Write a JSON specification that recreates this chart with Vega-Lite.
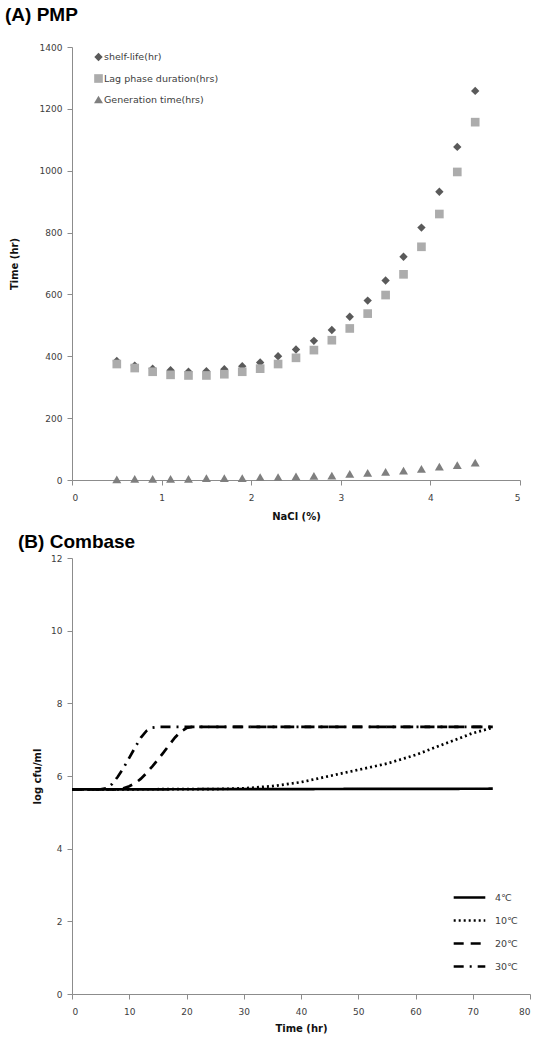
{
  "$schema": "https://vega.github.io/schema/vega-lite/v6.json",
  "background": "white",
  "padding": {"left": 5, "top": 6, "right": 5, "bottom": 2},
  "spacing": 12,
  "config": {
    "font": "DejaVu Sans",
    "view": {"stroke": null},
    "axis": {
      "grid": false,
      "domainColor": "#8c8c8c",
      "tickColor": "#8c8c8c",
      "tickSize": 5,
      "labelFontSize": 9,
      "labelColor": "#404040",
      "titleFontSize": 10,
      "titleFontWeight": "bold",
      "titleColor": "#111111",
      "labelPadding": 4
    },
    "legend": {"labelFontSize": 9.5, "labelColor": "#404040"}
  },
  "datasets": {
    "pmp": [
      {"nacl": 0.5, "series": "shelf-life(hr)", "time": 385},
      {"nacl": 0.7, "series": "shelf-life(hr)", "time": 370},
      {"nacl": 0.9, "series": "shelf-life(hr)", "time": 360},
      {"nacl": 1.1, "series": "shelf-life(hr)", "time": 355},
      {"nacl": 1.3, "series": "shelf-life(hr)", "time": 350},
      {"nacl": 1.5, "series": "shelf-life(hr)", "time": 352},
      {"nacl": 1.7, "series": "shelf-life(hr)", "time": 358},
      {"nacl": 1.9, "series": "shelf-life(hr)", "time": 368},
      {"nacl": 2.1, "series": "shelf-life(hr)", "time": 380},
      {"nacl": 2.3, "series": "shelf-life(hr)", "time": 400},
      {"nacl": 2.5, "series": "shelf-life(hr)", "time": 422},
      {"nacl": 2.7, "series": "shelf-life(hr)", "time": 450},
      {"nacl": 2.9, "series": "shelf-life(hr)", "time": 485},
      {"nacl": 3.1, "series": "shelf-life(hr)", "time": 528},
      {"nacl": 3.3, "series": "shelf-life(hr)", "time": 580},
      {"nacl": 3.5, "series": "shelf-life(hr)", "time": 645},
      {"nacl": 3.7, "series": "shelf-life(hr)", "time": 722},
      {"nacl": 3.9, "series": "shelf-life(hr)", "time": 816},
      {"nacl": 4.1, "series": "shelf-life(hr)", "time": 932},
      {"nacl": 4.3, "series": "shelf-life(hr)", "time": 1077},
      {"nacl": 4.5, "series": "shelf-life(hr)", "time": 1258},
      {"nacl": 0.5, "series": "Lag phase duration(hrs)", "time": 375},
      {"nacl": 0.7, "series": "Lag phase duration(hrs)", "time": 362},
      {"nacl": 0.9, "series": "Lag phase duration(hrs)", "time": 350},
      {"nacl": 1.1, "series": "Lag phase duration(hrs)", "time": 340},
      {"nacl": 1.3, "series": "Lag phase duration(hrs)", "time": 338},
      {"nacl": 1.5, "series": "Lag phase duration(hrs)", "time": 338},
      {"nacl": 1.7, "series": "Lag phase duration(hrs)", "time": 342},
      {"nacl": 1.9, "series": "Lag phase duration(hrs)", "time": 350},
      {"nacl": 2.1, "series": "Lag phase duration(hrs)", "time": 360},
      {"nacl": 2.3, "series": "Lag phase duration(hrs)", "time": 375},
      {"nacl": 2.5, "series": "Lag phase duration(hrs)", "time": 395},
      {"nacl": 2.7, "series": "Lag phase duration(hrs)", "time": 420},
      {"nacl": 2.9, "series": "Lag phase duration(hrs)", "time": 452},
      {"nacl": 3.1, "series": "Lag phase duration(hrs)", "time": 490},
      {"nacl": 3.3, "series": "Lag phase duration(hrs)", "time": 538},
      {"nacl": 3.5, "series": "Lag phase duration(hrs)", "time": 598},
      {"nacl": 3.7, "series": "Lag phase duration(hrs)", "time": 665},
      {"nacl": 3.9, "series": "Lag phase duration(hrs)", "time": 754},
      {"nacl": 4.1, "series": "Lag phase duration(hrs)", "time": 860},
      {"nacl": 4.3, "series": "Lag phase duration(hrs)", "time": 996},
      {"nacl": 4.5, "series": "Lag phase duration(hrs)", "time": 1157},
      {"nacl": 0.5, "series": "Generation time(hrs)", "time": 2},
      {"nacl": 0.7, "series": "Generation time(hrs)", "time": 4},
      {"nacl": 0.9, "series": "Generation time(hrs)", "time": 4},
      {"nacl": 1.1, "series": "Generation time(hrs)", "time": 4},
      {"nacl": 1.3, "series": "Generation time(hrs)", "time": 4},
      {"nacl": 1.5, "series": "Generation time(hrs)", "time": 6},
      {"nacl": 1.7, "series": "Generation time(hrs)", "time": 6},
      {"nacl": 1.9, "series": "Generation time(hrs)", "time": 6},
      {"nacl": 2.1, "series": "Generation time(hrs)", "time": 9},
      {"nacl": 2.3, "series": "Generation time(hrs)", "time": 9},
      {"nacl": 2.5, "series": "Generation time(hrs)", "time": 12},
      {"nacl": 2.7, "series": "Generation time(hrs)", "time": 13},
      {"nacl": 2.9, "series": "Generation time(hrs)", "time": 14},
      {"nacl": 3.1, "series": "Generation time(hrs)", "time": 20},
      {"nacl": 3.3, "series": "Generation time(hrs)", "time": 23},
      {"nacl": 3.5, "series": "Generation time(hrs)", "time": 26},
      {"nacl": 3.7, "series": "Generation time(hrs)", "time": 30},
      {"nacl": 3.9, "series": "Generation time(hrs)", "time": 36},
      {"nacl": 4.1, "series": "Generation time(hrs)", "time": 43},
      {"nacl": 4.3, "series": "Generation time(hrs)", "time": 48},
      {"nacl": 4.5, "series": "Generation time(hrs)", "time": 56}
    ],
    "combase": [
      {"t": 0, "temp": "4℃", "log": 5.63},
      {"t": 73.5, "temp": "4℃", "log": 5.65},
      {"t": 0, "temp": "10℃", "log": 5.63},
      {"t": 25, "temp": "10℃", "log": 5.64},
      {"t": 30, "temp": "10℃", "log": 5.66},
      {"t": 35, "temp": "10℃", "log": 5.72},
      {"t": 40, "temp": "10℃", "log": 5.83},
      {"t": 45, "temp": "10℃", "log": 6.0},
      {"t": 50, "temp": "10℃", "log": 6.17},
      {"t": 55, "temp": "10℃", "log": 6.34},
      {"t": 60, "temp": "10℃", "log": 6.58},
      {"t": 65, "temp": "10℃", "log": 6.88},
      {"t": 70, "temp": "10℃", "log": 7.18},
      {"t": 73.5, "temp": "10℃", "log": 7.33},
      {"t": 0, "temp": "20℃", "log": 5.63},
      {"t": 8, "temp": "20℃", "log": 5.63},
      {"t": 9, "temp": "20℃", "log": 5.66},
      {"t": 10, "temp": "20℃", "log": 5.72},
      {"t": 11, "temp": "20℃", "log": 5.8},
      {"t": 12, "temp": "20℃", "log": 5.92},
      {"t": 13, "temp": "20℃", "log": 6.08},
      {"t": 14, "temp": "20℃", "log": 6.26},
      {"t": 15, "temp": "20℃", "log": 6.45},
      {"t": 16, "temp": "20℃", "log": 6.65},
      {"t": 17, "temp": "20℃", "log": 6.86},
      {"t": 18, "temp": "20℃", "log": 7.06},
      {"t": 19, "temp": "20℃", "log": 7.22},
      {"t": 20, "temp": "20℃", "log": 7.32},
      {"t": 21, "temp": "20℃", "log": 7.35},
      {"t": 73.5, "temp": "20℃", "log": 7.35},
      {"t": 0, "temp": "30℃", "log": 5.63},
      {"t": 5, "temp": "30℃", "log": 5.63},
      {"t": 6, "temp": "30℃", "log": 5.66},
      {"t": 7, "temp": "30℃", "log": 5.78},
      {"t": 8, "temp": "30℃", "log": 5.98},
      {"t": 9, "temp": "30℃", "log": 6.22},
      {"t": 10, "temp": "30℃", "log": 6.5},
      {"t": 11, "temp": "30℃", "log": 6.78},
      {"t": 12, "temp": "30℃", "log": 7.05},
      {"t": 13, "temp": "30℃", "log": 7.24},
      {"t": 14, "temp": "30℃", "log": 7.33},
      {"t": 15, "temp": "30℃", "log": 7.35},
      {"t": 73.5, "temp": "30℃", "log": 7.35}
    ]
  },
  "vconcat": [
    {
      "title": {"text": "(A) PMP", "anchor": "start", "frame": "group", "dx": -67, "offset": 18, "fontSize": 19, "fontWeight": "bold", "color": "#000000", "font": "Liberation Sans"},
      "width": 448,
      "height": 433,
      "data": {"name": "pmp"},
      "mark": {"type": "point", "filled": true, "opacity": 1},
      "encoding": {
        "x": {"field": "nacl", "type": "quantitative", "title": "NaCl (%)", "scale": {"domain": [0, 5], "nice": false}, "axis": {"values": [0, 1, 2, 3, 4, 5], "format": "d", "labelPadding": 8, "titlePadding": 9}},
        "y": {"field": "time", "type": "quantitative", "title": "Time (hr)", "scale": {"domain": [0, 1400], "nice": false}, "axis": {"values": [0, 200, 400, 600, 800, 1000, 1200, 1400], "format": "d", "labelPadding": 5, "titlePadding": 20}},
        "color": {"field": "series", "type": "nominal", "scale": {"domain": ["shelf-life(hr)", "Lag phase duration(hrs)", "Generation time(hrs)"], "range": ["#5a5a5a", "#acacac", "#7f7f7f"]}, "legend": {"title": null, "orient": "none", "legendX": 21, "legendY": 5, "rowPadding": 11, "symbolSize": 50, "labelOffset": 0}},
        "shape": {"field": "series", "type": "nominal", "scale": {"domain": ["shelf-life(hr)", "Lag phase duration(hrs)", "Generation time(hrs)"], "range": ["diamond", "square", "triangle-up"]}},
        "size": {"field": "series", "type": "nominal", "scale": {"domain": ["shelf-life(hr)", "Lag phase duration(hrs)", "Generation time(hrs)"], "range": [70, 80, 90]}, "legend": null}
      }
    },
    {
      "title": {"text": "(B) Combase", "anchor": "start", "frame": "group", "dx": -54, "offset": 2, "fontSize": 19, "fontWeight": "bold", "color": "#000000", "font": "Liberation Sans"},
      "width": 458,
      "height": 436,
      "data": {"name": "combase"},
      "mark": {"type": "line", "color": "black", "strokeWidth": 2.7},
      "encoding": {
        "x": {"field": "t", "type": "quantitative", "title": "Time (hr)", "scale": {"domain": [0, 80], "nice": false}, "axis": {"values": [0, 10, 20, 30, 40, 50, 60, 70, 80], "labelPadding": 8, "titlePadding": 7}},
        "y": {"field": "log", "type": "quantitative", "title": "log cfu/ml", "scale": {"domain": [0, 12], "nice": false}, "axis": {"values": [0, 2, 4, 6, 8, 10, 12], "labelPadding": 5, "titlePadding": 8}},
        "order": {"field": "t", "type": "quantitative"},
        "strokeDash": {"field": "temp", "type": "nominal", "scale": {"domain": ["4℃", "10℃", "20℃", "30℃"], "range": [[1, 0], [2, 3], [10, 7], [10, 6, 2, 6]]}, "legend": {"title": null, "orient": "none", "legendX": 380, "legendY": 833, "symbolType": "stroke", "symbolSize": 1000, "symbolStrokeWidth": 2.7, "symbolStrokeColor": "black", "rowPadding": -2, "labelOffset": 8}}
      }
    }
  ]
}
